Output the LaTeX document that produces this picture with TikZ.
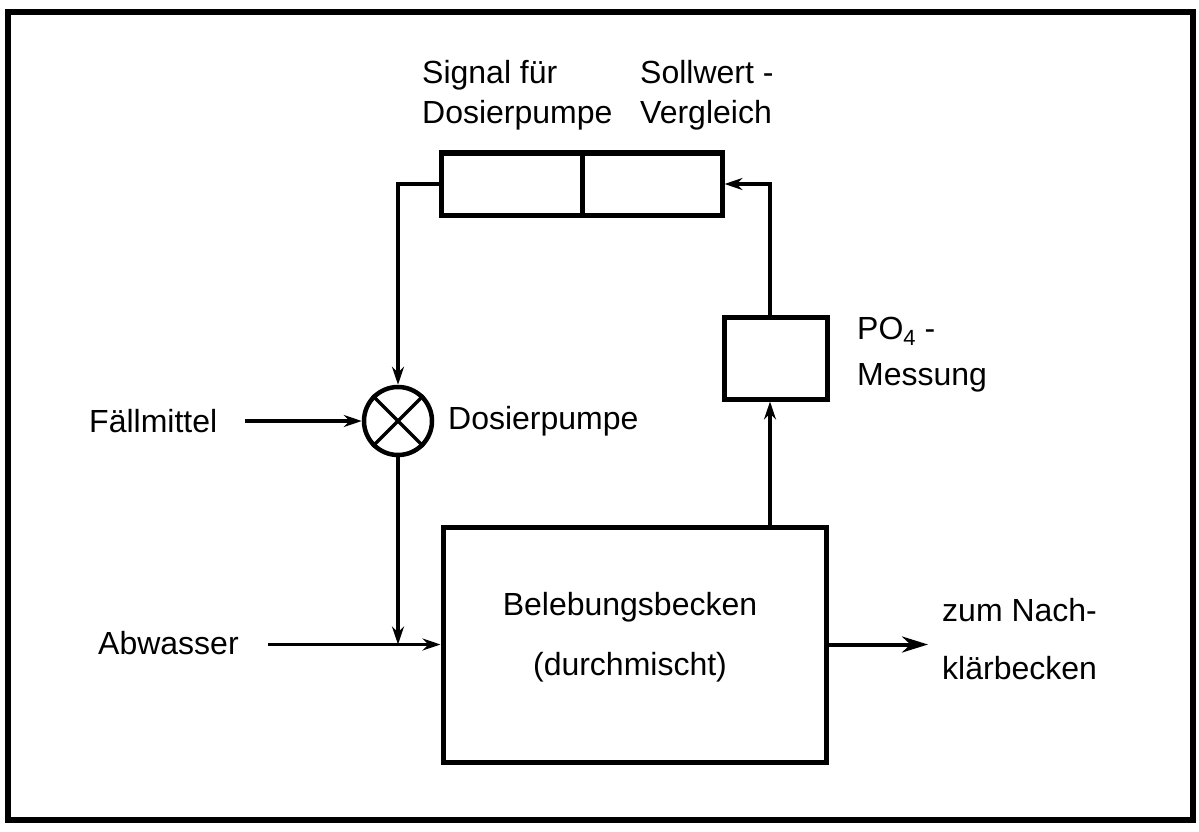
\documentclass[tikz,border=0pt]{standalone}
\usepackage{fontspec}
\setmainfont{Liberation Sans}
\usetikzlibrary{arrows.meta}
\begin{document}
\begin{tikzpicture}[x=1pt,y=-1pt,
  lbl/.style={font=\fontsize{32}{40}\selectfont, inner sep=0pt, align=left},
  blk/.style={draw, line width=5pt, inner sep=0pt},
  conn/.style={line width=3.2pt},
  arr/.style={conn, -{Stealth[length=18pt,width=12pt]}},
  bigarr/.style={line width=4pt, -{Stealth[length=26pt,width=16pt]}}]
\useasboundingbox (0,0) rectangle (1199,832);
\draw[line width=6.5pt] (8,12) rectangle (1193,820);
% top blocks
\node[blk, minimum width=141pt, minimum height=62pt] (sig) at (511.5,184) {};
\node[blk, minimum width=140pt, minimum height=62pt] (cmp) at (652,184) {};
\node[lbl, anchor=west] (sigl) at (422,95) {Signal für\\Dosierpumpe};
\node[lbl, anchor=west] (cmpl) at (640,95) {Sollwert -\\Vergleich};
% PO4 measurement
\node[blk, minimum width=103pt, minimum height=82pt] (po4) at (775.5,358) {};
\node[lbl, anchor=west, font=\fontsize{32}{46}\selectfont] (po4l) at (857,355) {PO\raisebox{-0.35ex}{\fontsize{22}{22}\selectfont 4} -\\Messung};
% pump
\node[draw, circle, line width=4.5pt, minimum size=68pt, inner sep=0pt] (pump) at (398,421) {};
\draw[line width=3.5pt] (pump.north west) -- (pump.south east);
\draw[line width=3.5pt] (pump.north east) -- (pump.south west);
\node[lbl, anchor=west] (fm) at (89,421) {Fällmittel};
\node[lbl, anchor=west] (dp) at (448,421) {Dosierpumpe};
% basin
\node[blk, minimum width=383pt, minimum height=235pt] (bb) at (634.5,644.5) {};
\node[lbl, align=center, font=\fontsize{32}{60}\selectfont] (bbl) at (630,637) {Belebungsbecken\\(durchmischt)};
\node[lbl, anchor=west] (abw) at (98,643) {Abwasser};
\node[lbl, anchor=west, font=\fontsize{32}{58}\selectfont] (nk) at (942,639) {zum Nach-\\klärbecken};
% coordinates
\coordinate (fb) at (770,184);
\coordinate (fmstart) at (245,421);
\coordinate (abwstart) at (268,644.5);
\coordinate (outend) at (928,644.5);
% connectors
\draw[arr] (sig.west) -| (pump.north);
\draw[arr] (fmstart) -- (pump.west);
\draw[arr] (pump.south) -- (pump.south |- bb.west);
\draw[arr] (abwstart) -- (bb.west);
\draw[arr] (bb.north -| fb) -- (po4.south -| fb);
\draw[arr] (po4.north -| fb) |- (cmp.east);
\draw[bigarr] (bb.east) -- (outend);
\end{tikzpicture}
\end{document}
